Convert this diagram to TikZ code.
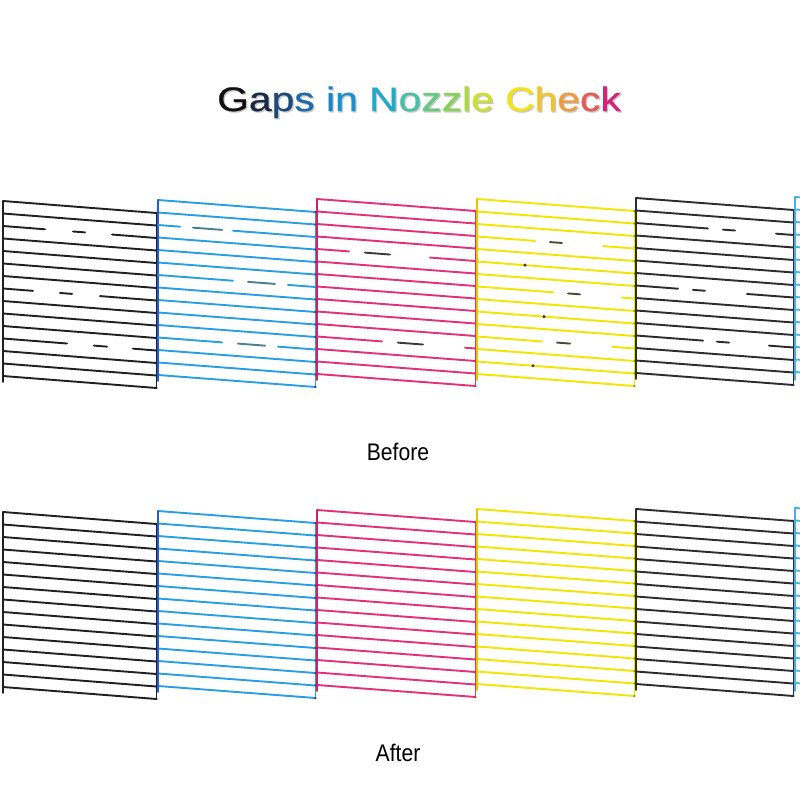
\documentclass[tikz,border=0pt]{standalone}
\usepackage{fontspec}
\setmainfont{Liberation Sans}
\newfontfamily\titlefont[FakeBold=0.6]{Liberation Sans}
\definecolor{nzblack}{HTML}{202020}
\definecolor{nzcyan}{HTML}{2A9FE0}
\definecolor{nzcyanedge}{HTML}{1E5FC8}
\definecolor{nzmag}{HTML}{E2307A}
\definecolor{nzmagedge}{HTML}{D42060}
\definecolor{nzyel}{HTML}{F2E500}
\definecolor{nzyeledge}{HTML}{E8C400}
\definecolor{nzgray}{HTML}{2C2C2C}
\definecolor{nzcyan2}{HTML}{4AAEE0}
\definecolor{dotA}{HTML}{1A2A70}
\definecolor{dotB}{HTML}{3A2AA0}
\definecolor{dotC}{HTML}{E03030}
\definecolor{dotD}{HTML}{8A8A20}
\definecolor{dotE}{HTML}{1A3A70}
\definecolor{dashC}{HTML}{4A7F90}
\definecolor{dashM}{HTML}{3A3A3A}
\definecolor{dashY}{HTML}{4A4A30}
\tikzset{nz/.style={line width=1.9pt, line cap=round}}
% segment on line k of a block: x0 x1 y0 k xa xb style
\newcommand\nzseg[7]{%
  \draw[nz,#7] (#5,{#3+12.5*#4+12*((#5)-(#1))/((#2)-(#1))}) -- (#6,{#3+12.5*#4+12*((#6)-(#1))/((#2)-(#1))});}
% block: x0 x1 y0 color edgecolor dotcolor list-of-full-lines
\newcommand\nzblock[7]{%
  \foreach \k in {#7} {\nzseg{#1}{#2}{#3}{\k}{#1}{#2}{draw=#4}}
  \draw[nz,draw=#5] (#1,#3) -- (#1,{#3+181});
  \draw[nz,draw=#4] (#2,{#3+12}) -- (#2,{#3+187});
  \foreach \k in {0,...,14} {\fill[#6] (#2,{#3+12.5*\k+12}) circle (1.2);}
}
% gapped line: x0 x1 y0 k a da db b color
\newcommand\nzgap[9]{%
  \nzseg{#1}{#2}{#3}{#4}{#1}{#5}{draw=#9}%
  \nzseg{#1}{#2}{#3}{#4}{#6}{#7}{draw=\nzdash}%
  \nzseg{#1}{#2}{#3}{#4}{#8}{#2}{draw=#9}}
\newcommand\nzdash{black}
\begin{document}
\begin{tikzpicture}[x=1pt,y=-1pt]
\fill[white] (0,0) rectangle (800,800);
\useasboundingbox (0,0) rectangle (800,800);
% ---------- title ----------
\node[anchor=base, inner sep=0, text=black!22] (titleshadow) at (420.3,112.3) {\titlefont\fontsize{34}{40}\selectfont\scalebox{1.2}[1]{Gaps in Nozzle Check}};
\node[anchor=base, inner sep=0] (title) at (419,111) {\titlefont\fontsize{34}{40}\selectfont\scalebox{1.2}[1]{%
\textcolor[HTML]{111111}{G}\textcolor[HTML]{1A2A44}{a}\textcolor[HTML]{1D4A78}{p}\textcolor[HTML]{1F6AA8}{s} %
\textcolor[HTML]{1A84C8}{i}\textcolor[HTML]{1A92D0}{n} %
\textcolor[HTML]{22AAC8}{N}\textcolor[HTML]{48C0A8}{o}\textcolor[HTML]{68C880}{z}\textcolor[HTML]{88D058}{z}\textcolor[HTML]{ABD840}{l}\textcolor[HTML]{CAE030}{e} %
\textcolor[HTML]{F2E21E}{C}\textcolor[HTML]{F4C426}{h}\textcolor[HTML]{EE9A3E}{e}\textcolor[HTML]{E45C56}{c}\textcolor[HTML]{D8207A}{k}}};
% ---------- BEFORE ----------
% black
\renewcommand\nzdash{nzblack}
\nzblock{3}{156.5}{201}{nzblack}{nzblack}{nzblack}{0,1,3,4,5,6,8,9,10,12,13,14}
\nzgap{3}{156.5}{201}{2}{45}{73}{85}{112}{nzblack}
\nzgap{3}{156.5}{201}{7}{33}{60}{72}{100}{nzblack}
\nzgap{3}{156.5}{201}{11}{67}{94}{107}{133}{nzblack}
% cyan
\renewcommand\nzdash{dashC}
\nzblock{158}{315.5}{200}{nzcyan}{nzcyanedge}{dotB}{0,1,3,4,5,7,8,9,10,12,13,14}
\nzgap{158}{315.5}{200}{2}{180}{193}{222}{233}{nzcyan}
\nzgap{158}{315.5}{200}{6}{233}{248}{275}{288}{nzcyan}
\nzgap{158}{315.5}{200}{11}{222}{238}{265}{278}{nzcyan}
% magenta
\renewcommand\nzdash{dashM}
\nzblock{317}{475.5}{199}{nzmag}{nzmagedge}{dotC}{0,1,2,3,5,6,7,8,9,10,12,13,14}
\nzgap{317}{475.5}{199}{4}{349}{365}{390}{430}{nzmag}
\nzgap{317}{475.5}{199}{11}{382}{398}{423}{465}{nzmag}
% yellow
\renewcommand\nzdash{dashY}
\nzblock{477}{634.5}{199}{nzyel}{nzyeledge}{dotD}{0,1,2,4,5,6,8,9,10,12,13,14}
\nzgap{477}{634.5}{199}{3}{535}{550}{562}{603}{nzyel}
\nzgap{477}{634.5}{199}{7}{553}{568}{580}{622}{nzyel}
\nzgap{477}{634.5}{199}{11}{542}{557}{570}{612}{nzyel}
\fill[dashM] (525,{199+12.5*5+12*48/157.5}) circle (1.7);
\fill[dashM] (544,{199+12.5*9+12*67/157.5}) circle (1.7);
\fill[dashM] (533,{199+12.5*13+12*56/157.5}) circle (1.7);
% gray
\renewcommand\nzdash{nzgray}
\nzblock{636}{793.5}{198}{nzgray}{nzgray}{dotE}{0,1,3,4,5,6,8,9,10,12,13,14}
\nzgap{636}{793.5}{198}{2}{708}{723}{735}{776}{nzgray}
\nzgap{636}{793.5}{198}{7}{678}{693}{705}{747}{nzgray}
\nzgap{636}{793.5}{198}{11}{703}{717}{729}{769}{nzgray}
% partial cyan
\draw[nz,draw=nzcyan2] (795,197) -- (795,380);
\foreach \k in {0,...,14} {\draw[nz,draw=nzcyan2] (795,{197+12.5*\k}) -- (801,{197.4+12.5*\k});}
\node[anchor=base, inner sep=0] (before) at (398,460.7) {\fontsize{24}{28}\selectfont\scalebox{0.88}[1]{Before}};
% ---------- AFTER ----------
\nzblock{3}{156.5}{512}{nzblack}{nzblack}{nzblack}{0,...,14}
\nzblock{158}{315.5}{511}{nzcyan}{nzcyanedge}{dotB}{0,...,14}
\nzblock{317}{475.5}{510}{nzmag}{nzmagedge}{dotC}{0,...,14}
\nzblock{477}{634.5}{509}{nzyel}{nzyeledge}{dotD}{0,...,14}
\nzblock{636}{793.5}{509}{nzgray}{nzgray}{dotE}{0,...,14}
\draw[nz,draw=nzcyan2] (795,508) -- (795,691);
\foreach \k in {0,...,14} {\draw[nz,draw=nzcyan2] (795,{508+12.5*\k}) -- (801,{508.4+12.5*\k});}
\node[anchor=base, inner sep=0] (after) at (398,761.7) {\fontsize{24}{28}\selectfont\scalebox{0.88}[1]{After}};
\end{tikzpicture}
\end{document}
